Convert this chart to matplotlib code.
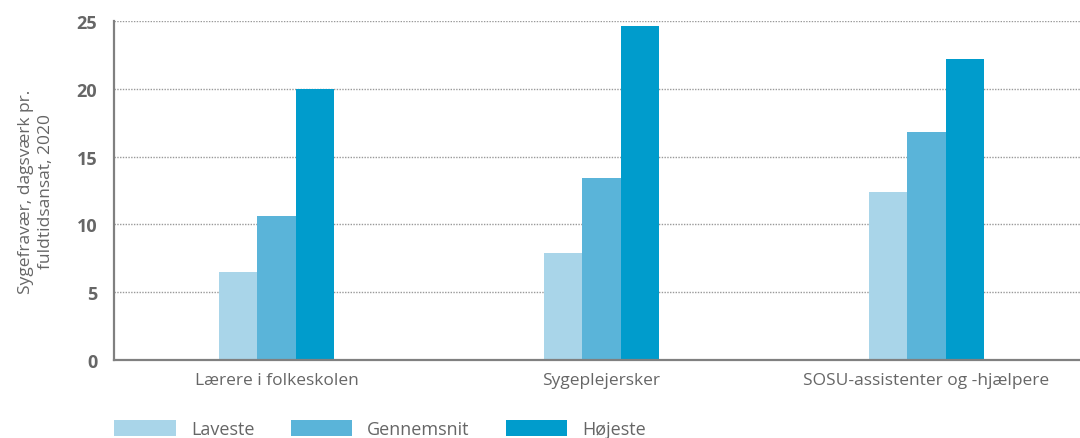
import matplotlib
matplotlib.use("Agg")
from matplotlib import pyplot as plt
import numpy as np

# data
categories = ["Lærere i folkeskolen", "Sygeplejersker", "SOSU-assistenter og -hjælpere"]
series_names = ["Laveste", "Gennemsnit", "Højeste"]
laveste = [6.5, 7.9, 12.4]
gennemsnit = [10.6, 13.4, 16.8]
hojeste = [20.0, 24.6, 22.2]
yticks = [0, 5, 10, 15, 20, 25]

colors = ["#a9d5e9", "#5ab4d9", "#009ccc"]
grey = "#666666"

plt.rcParams["font.family"] = ["Open Sans", "DejaVu Sans"]

fig = plt.figure(figsize=(10.8, 4.39), dpi=100)
ax = fig.add_axes([114 / 1080, 78 / 439, 975 / 1080, 339 / 439])

x = np.arange(len(categories))
w = 0.117
for i, (vals, name) in enumerate(zip([laveste, gennemsnit, hojeste], series_names)):
    ax.bar(x + (i - 1) * w, vals, width=w, color=colors[i], label=name, zorder=3)

ax.set_xlim(-0.5, 2.5)
ax.set_ylim(0, 25)
ax.set_yticks(yticks)
ax.set_xticks(x)
ax.set_xticklabels(categories, fontsize=12.5, color=grey)
for lab in ax.get_yticklabels():
    lab.set_fontweight("bold")
ax.tick_params(axis="y", length=0, labelsize=13, labelcolor=grey, pad=12)
ax.tick_params(axis="x", length=0, pad=9)

ax.yaxis.grid(True, linestyle=(0, (1, 1)), color="#999999", linewidth=1, zorder=0)
ax.set_axisbelow(True)
for s in ["top", "right"]:
    ax.spines[s].set_visible(False)
for s in ["left", "bottom"]:
    ax.spines[s].set_color("#808080")
    ax.spines[s].set_linewidth(1.6)
ax.spines["bottom"].set_zorder(4)

ax.set_ylabel("Sygefravær, dagsværk pr.\nfuldtidsansat, 2020", fontsize=12.5, color=grey,
              linespacing=1.35, labelpad=16)

fig.legend(loc="center left", bbox_to_anchor=(98 / 1080, 1 - 430 / 439), ncol=3,
           frameon=False, fontsize=13, handlelength=3.4, handleheight=1.0,
           handletextpad=0.85, columnspacing=2.0, labelcolor=grey)

fig.savefig("out.png", dpi=100)
